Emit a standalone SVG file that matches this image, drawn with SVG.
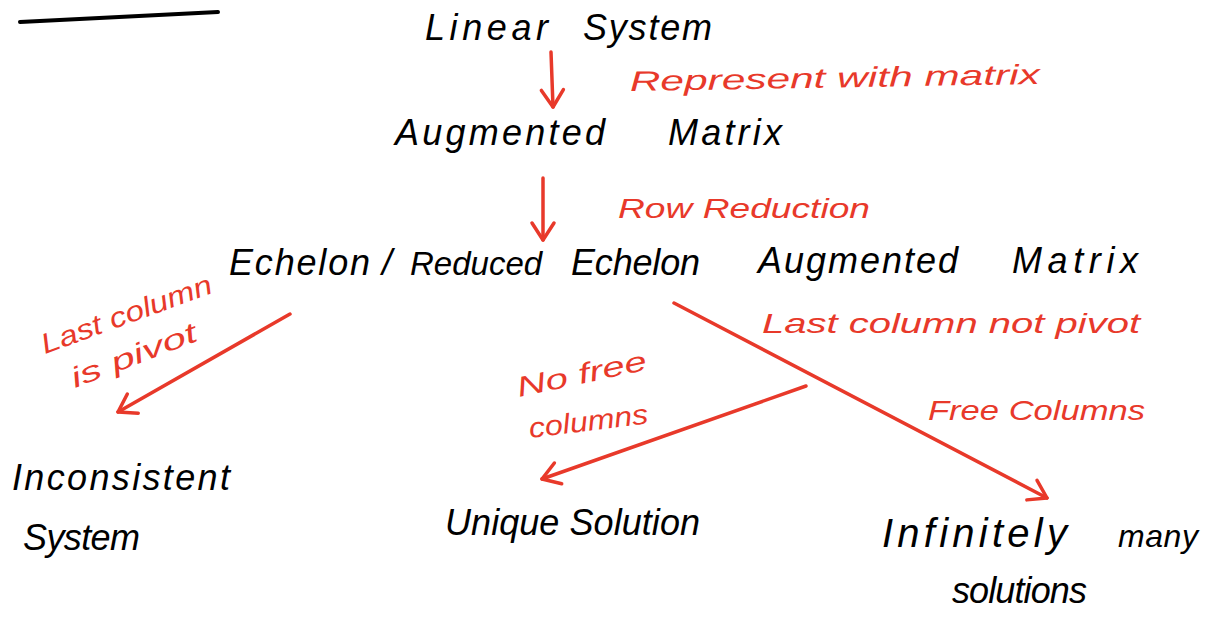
<svg xmlns="http://www.w3.org/2000/svg" width="1209" height="624" viewBox="0 0 1209 624">
<style>
.k{font-family:"Liberation Sans","DejaVu Sans",sans-serif;font-size:36px;fill:#000;font-style:italic}
.r{font-family:"Liberation Sans","DejaVu Sans",sans-serif;font-size:28px;fill:#e8392a;font-style:italic}
.e{fill:none;stroke:#e8392a;stroke-width:3.5;stroke-linecap:round;stroke-linejoin:round}
</style>
<defs>
<marker id="ah" markerUnits="userSpaceOnUse" markerWidth="40" markerHeight="40" refX="0" refY="0" viewBox="-25 -20 30 40" orient="auto">
<path d="M-17,-11 L0,0 L-17,11" fill="none" stroke="#e8392a" stroke-width="3.5" stroke-linecap="round" stroke-linejoin="round"/>
</marker>
</defs>
<rect width="1209" height="624" fill="#fff"/>
<line x1="20" y1="22" x2="218" y2="12" stroke="#000" stroke-width="4" stroke-linecap="round"/>
<g id="connectors">
<path class="e" d="M551,52 L553,107" marker-end="url(#ah)"/>
<path class="e" d="M543,178 L543,240" marker-end="url(#ah)"/>
<path class="e" d="M290,314 L118,412" marker-end="url(#ah)"/>
<path class="e" d="M674,303 L1047,498" marker-end="url(#ah)"/>
<path class="e" d="M806,386 L542,479" marker-end="url(#ah)"/>
<text class="r" x="630" y="91" textLength="410" lengthAdjust="spacingAndGlyphs" transform="rotate(-1 630 91)">Represent with matrix</text>
<text class="r" x="618" y="218" textLength="252" lengthAdjust="spacingAndGlyphs">Row Reduction</text>
<text class="r" x="45" y="354" textLength="180" lengthAdjust="spacingAndGlyphs" transform="rotate(-20 45 354)">Last column</text>
<text class="r" x="75" y="388" textLength="133" lengthAdjust="spacingAndGlyphs" transform="rotate(-21 75 388)">is pivot</text>
<text class="r" x="762" y="333" textLength="378" lengthAdjust="spacingAndGlyphs">Last column not pivot</text>
<text class="r" x="519" y="397" textLength="132" lengthAdjust="spacingAndGlyphs" transform="rotate(-12 519 397)">No free</text>
<text class="r" x="530" y="438" textLength="120" lengthAdjust="spacingAndGlyphs" transform="rotate(-7 530 438)">columns</text>
<text class="r" x="928" y="420" textLength="217" lengthAdjust="spacingAndGlyphs">Free Columns</text>
</g>
<g id="linear-system">
<text class="k" x="425" y="40" textLength="123" lengthAdjust="spacing">Linear</text>
<text class="k" x="583" y="40" textLength="129" lengthAdjust="spacing">System</text>
</g>
<g id="augmented-matrix">
<text class="k" x="395" y="145" textLength="210" lengthAdjust="spacing">Augmented</text>
<text class="k" x="668" y="145" textLength="114" lengthAdjust="spacing">Matrix</text>
</g>
<g id="echelon">
<text class="k" x="229" y="275" textLength="141" lengthAdjust="spacing">Echelon</text>
<text class="k" x="382" y="275">/</text>
<text class="k" x="410" y="275" style="font-size:33px">Reduced</text>
<text class="k" x="571" y="275" textLength="129" lengthAdjust="spacing">Echelon</text>
<text class="k" x="758" y="273" textLength="200" lengthAdjust="spacing">Augmented</text>
<text class="k" x="1012" y="273" textLength="126" lengthAdjust="spacing">Matrix</text>
</g>
<g id="inconsistent">
<text class="k" x="12" y="490" textLength="218" lengthAdjust="spacing">Inconsistent</text>
<text class="k" x="23" y="550" textLength="117" lengthAdjust="spacing">System</text>
</g>
<g id="unique">
<text class="k" x="445" y="535" textLength="255" lengthAdjust="spacing">Unique Solution</text>
</g>
<g id="infinite">
<text class="k" x="882" y="547" textLength="185" lengthAdjust="spacing" style="font-size:40px">Infinitely</text>
<text class="k" x="1118" y="547" textLength="80" lengthAdjust="spacing" style="font-size:32px">many</text>
<text class="k" x="952" y="603" textLength="135" lengthAdjust="spacing">solutions</text>
</g>
</svg>
